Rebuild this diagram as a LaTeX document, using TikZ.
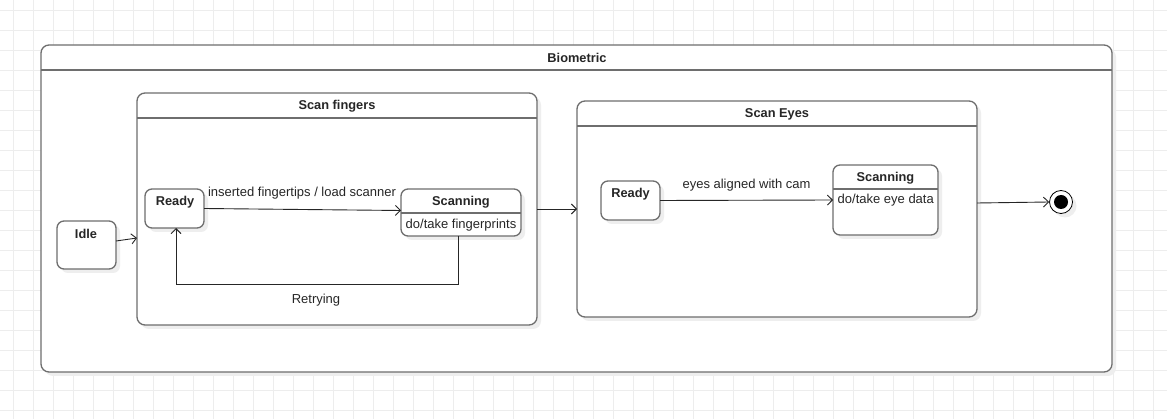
\documentclass[tikz,border=0pt]{standalone}
\usepackage{fontspec}
\setmainfont{Liberation Sans}
\usetikzlibrary{arrows.meta,calc,shadows}
\definecolor{gridc}{HTML}{EDEDED}
\definecolor{boxc}{HTML}{6E6E6E}
\definecolor{shc}{HTML}{EEEEEE}
\begin{document}
\begin{tikzpicture}[x=1pt,y=-1pt,
  font=\fontsize{13}{15}\selectfont,
  box/.style={draw=boxc, line width=1.3pt, fill=white, rounded corners=#1,
    inner sep=0pt, outer sep=0pt, anchor=north west,
    drop shadow={shadow xshift=4pt, shadow yshift=-4pt, fill=shc, opacity=1}},
  box/.default=7pt,
  lbl/.style={inner sep=0pt, text=black!85},
  ttl/.style={inner sep=0pt, font=\fontsize{12.8}{15}\selectfont\bfseries, text=black!85},
  arr/.style={draw=black!85, line width=0.9pt, -{Straight Barb[length=5pt,width=10pt,line width=0.9pt]}},
  sep/.style={draw=boxc, line width=1.3pt}]
\useasboundingbox (0,0) rectangle (1167,419);
\fill[white] (0,0) rectangle (1167,419);
\foreach \x in {13,33,...,1167} \draw[gridc, line width=0.8pt] (\x,0) -- (\x,419);
\foreach \y in {10,30,...,419} \draw[gridc, line width=0.8pt] (0,\y) -- (1167,\y);

% Biometric
\node[box=8pt, minimum width=1071pt, minimum height=327pt] (bio) at (41,45) {};
\draw[sep] ([yshift=-25pt]bio.north west) -- ([yshift=-25pt]bio.north east);
\node[ttl] (biot) at (577,58) {Biometric};

% Scan fingers
\node[box=8pt, minimum width=400pt, minimum height=232pt] (sf) at (137,93) {};
\draw[sep] ([yshift=-25pt]sf.north west) -- ([yshift=-25pt]sf.north east);
\node[ttl] (sft) at (337,106) {Scan fingers};

% Scan Eyes
\node[box=8pt, minimum width=400pt, minimum height=216pt] (se) at (577,101) {};
\draw[sep] ([yshift=-25pt]se.north west) -- ([yshift=-25pt]se.north east);
\node[ttl] (set) at (777,114) {Scan Eyes};

% Idle
\node[box, minimum width=59pt, minimum height=48pt] (idle) at (57,221) {};
\node[ttl] (idlet) at (86,234) {Idle};

% Ready (fingers)
\node[box, minimum width=59pt, minimum height=39pt] (r1) at (145,189) {};
\node[ttl] (r1t) at (175,202.5) {Ready};

% Scanning (fingers)
\node[box, minimum width=120pt, minimum height=47pt] (s1) at (401,189) {};
\draw[sep] ([yshift=-24pt]s1.north west) -- ([yshift=-24pt]s1.north east);
\node[ttl] (s1t) at (461,202.5) {Scanning};
\node[lbl] (s1d) at (461,225.5) {do/take fingerprints};

% Ready (eyes)
\node[box, minimum width=59pt, minimum height=39pt] (r2) at (601,181) {};
\node[ttl] (r2t) at (630.5,194) {Ready};

% Scanning (eyes)
\node[box, minimum width=105pt, minimum height=70pt] (s2) at (833,165) {};
\draw[sep] ([yshift=-24pt]s2.north west) -- ([yshift=-24pt]s2.north east);
\node[ttl] (s2t) at (885.5,178) {Scanning};
\node[lbl, anchor=west] (s2d) at (837.5,200.5) {do/take eye data};

% Final state
\node[circle, draw=black, line width=0.8pt, fill=white, minimum size=23pt, inner sep=0pt,
  drop shadow={shadow xshift=4pt, shadow yshift=-4pt, fill=shc, opacity=1}] (fin) at (1061,202) {};
\node[circle, fill=black, minimum size=14pt, inner sep=0pt] (fini) at (fin) {};

% Connectors
\draw[arr] ([yshift=4pt]idle.east) -- ([yshift=-29pt]sf.west);
\draw[arr] (r1.east) -- ([yshift=2pt]s1.west);
\node[lbl] (l1) at (302,193.5) {inserted fingertips / load scanner};
\draw[arr] ([xshift=-3pt]s1.south) -- ++(0,48) -| ([xshift=1.5pt]r1.south);
\node[lbl] (l2) at (316,300) {Retrying};
\draw[arr] (sf.east) -- (se.west);
\draw[arr] (r2.east) -- (s2.west);
\node[lbl] (l3) at (746.5,185.5) {eyes aligned with cam};
\draw[arr] ([yshift=6pt]se.east) -- (fin.west);
\end{tikzpicture}
\end{document}
